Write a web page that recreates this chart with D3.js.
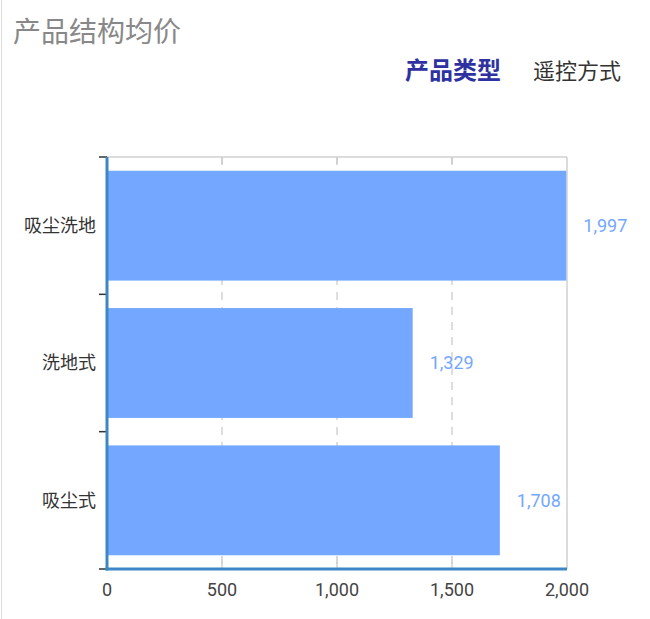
<!DOCTYPE html>
<html>
<head>
<meta charset="utf-8">
<script src="https://cdn.jsdelivr.net/npm/d3@7"></script>
<style>
  body { margin: 0; background: #fff; font-family: Roboto, "Noto Sans CJK SC", sans-serif; }
</style>
</head>
<body>
<script>
var categories = ['吸尘洗地', '洗地式', '吸尘式'];
var values = [1997, 1329, 1708];
var xTicks = [0, 500, 1000, 1500, 2000];
var tabs = ['产品类型', '遥控方式'];

var width = 650, height = 619;
var pLeft = 107, pRight = 567, pTop = 157, pBottom = 569;

var svg = d3.select('body').append('svg')
  .attr('width', width)
  .attr('height', height)
  .style('font-family', 'Roboto, "Noto Sans CJK SC", sans-serif');

// card border on the left
svg.append('line')
  .attr('x1', 1.5).attr('x2', 1.5).attr('y1', 0).attr('y2', height)
  .style('stroke', '#ddd').style('stroke-width', 1);

svg.append('text')
  .attr('x', 13).attr('y', 42)
  .style('font-size', '28px').style('fill', '#888')
  .text('产品结构均价');

svg.selectAll('.tab')
  .data(tabs)
  .enter()
  .append('text')
  .attr('class', 'tab')
  .attr('x', function(d, i){ return i == 0 ? 405 : 533; })
  .attr('y', 79)
  .style('font-size', function(d, i){ return i == 0 ? '24px' : '22px'; })
  .style('font-weight', function(d, i){ return i == 0 ? 'bold' : 'normal'; })
  .style('fill', function(d, i){ return i == 0 ? '#2e31a0' : '#333'; })
  .text(function(d){ return d; });

var x = d3.scaleLinear().domain([0, 2000]).range([pLeft, pRight]);
var y = d3.scaleBand().domain(categories).range([pTop, pBottom])
  .paddingInner(0.2).paddingOuter(0.1);

// frame
svg.append('line')
  .attr('x1', pLeft).attr('x2', pRight).attr('y1', pTop).attr('y2', pTop)
  .style('stroke', '#d0d0d0').style('stroke-width', 1.5);
svg.append('line')
  .attr('x1', pRight).attr('x2', pRight).attr('y1', pTop).attr('y2', pBottom)
  .style('stroke', '#d0d0d0').style('stroke-width', 1.5);

// grid lines
var inner = xTicks.slice(1, -1);
svg.selectAll('.grid')
  .data(inner)
  .enter()
  .append('line')
  .attr('class', 'grid')
  .attr('x1', function(d){ return x(d); })
  .attr('x2', function(d){ return x(d); })
  .attr('y1', pTop).attr('y2', pBottom)
  .style('stroke', '#d4d4d4').style('stroke-width', 1.5)
  .style('stroke-dasharray', '8,7');
svg.selectAll('.gtick')
  .data(inner.concat(inner))
  .enter()
  .append('line')
  .attr('x1', function(d){ return x(d); })
  .attr('x2', function(d){ return x(d); })
  .attr('y1', function(d, i){ return i < inner.length ? pTop : pBottom - 13; })
  .attr('y2', function(d, i){ return i < inner.length ? pTop + 7 : pBottom - 5; })
  .style('stroke', '#ccc').style('stroke-width', 1.5);

svg.selectAll('.bar')
  .data(values)
  .enter()
  .append('rect')
  .attr('class', 'bar')
  .attr('x', x(0))
  .attr('y', function(d, i){ return y(categories[i]); })
  .attr('width', function(d){ return x(d) - x(0); })
  .attr('height', y.bandwidth())
  .style('fill', '#74a7ff');

svg.selectAll('.val')
  .data(values)
  .enter()
  .append('text')
  .attr('x', function(d){ return x(d) + 17; })
  .attr('y', function(d, i){ return y(categories[i]) + y.bandwidth() / 2; })
  .attr('dy', '0.35em')
  .style('font-size', '18px')
  .style('fill', '#74a7ff')
  .text(function(d){ return d3.format(',')(d); });

// y axis
var yTickPos = [pTop];
categories.forEach(function(c){ yTickPos.push(y(c) + y.step() * 0.9); });
yTickPos[yTickPos.length - 1] = pBottom;
svg.selectAll('.ytick')
  .data(yTickPos)
  .enter()
  .append('line')
  .attr('x1', pLeft - 8).attr('x2', pLeft)
  .attr('y1', function(d){ return d; }).attr('y2', function(d){ return d; })
  .style('stroke', '#333').style('stroke-width', 1.5);

svg.selectAll('.ylab')
  .data(categories)
  .enter()
  .append('text')
  .attr('x', 96)
  .attr('y', function(d){ return y(d) + y.bandwidth() / 2; })
  .attr('dy', '0.35em')
  .attr('text-anchor', 'end')
  .style('font-size', '18px')
  .style('fill', '#333')
  .text(function(d){ return d; });

svg.append('line')
  .attr('x1', pLeft).attr('x2', pLeft).attr('y1', pTop).attr('y2', pBottom + 1.5)
  .style('stroke', '#3d87c6').style('stroke-width', 3);
svg.append('line')
  .attr('x1', pLeft - 1.5).attr('x2', pRight).attr('y1', pBottom).attr('y2', pBottom)
  .style('stroke', '#3d87c6').style('stroke-width', 3);

// x axis labels
svg.selectAll('.xlab')
  .data(xTicks)
  .enter()
  .append('text')
  .attr('x', function(d){ return x(d); })
  .attr('y', 590)
  .attr('dy', '0.35em')
  .attr('text-anchor', 'middle')
  .style('font-size', '18px')
  .style('fill', '#444')
  .text(function(d){ return d3.format(',')(d); });
</script>
</body>
</html>
